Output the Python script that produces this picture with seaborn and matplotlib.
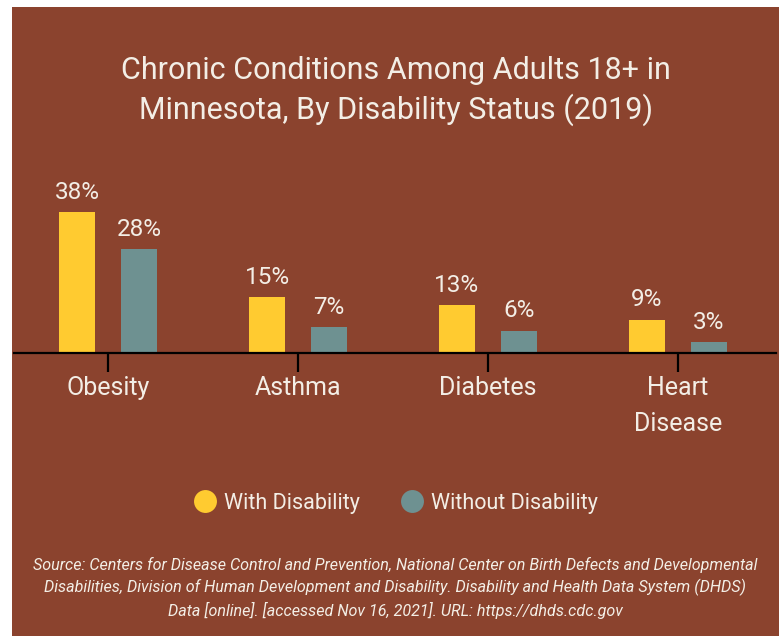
import pandas as pd
import seaborn as sns
import matplotlib.pyplot as plt
from matplotlib.patches import Rectangle
from matplotlib.lines import Line2D

conditions = ["Obesity", "Asthma", "Diabetes", "Heart\nDisease"]
with_disability = [38, 15, 13, 9]
without_disability = [28, 7, 6, 3]
groups = ["With Disability", "Without Disability"]

bg = "#8B432E"
ink = "#F3EEE6"
colors = ["#FFCB30", "#6E9191"]

df = pd.DataFrame({
    "condition": conditions * 2,
    "pct": with_disability + without_disability,
    "status": [groups[0]] * 4 + [groups[1]] * 4,
})

sns.set_style("white")
plt.rcParams["font.family"] = ["Roboto", "DejaVu Sans"]

fig = plt.figure(figsize=(7.84, 6.37), dpi=100)
fig.patch.set_facecolor("white")
fig.patches.append(Rectangle((12 / 784, 1 - 636 / 637), 767 / 784, 629 / 637,
                             transform=fig.transFigure, facecolor=bg, edgecolor="none", zorder=-10))

ax = fig.add_axes([14 / 784, (637 - 353) / 637, 762 / 784, 178 / 637])
ax.patch.set_alpha(0)
sns.barplot(data=df, x="condition", y="pct", hue="status", palette=colors,
            width=0.653, gap=0.417, ax=ax, legend=False, saturation=1,
            edgecolor="none", linewidth=0)

for cont in ax.containers:
    ax.bar_label(cont, labels=[f"{v:.0f}%" for v in cont.datavalues],
                 padding=6, color=ink, fontsize=17.5)

ax.set_xlim(-0.495, 3.516)
ax.set_ylim(0, 48.1)
ax.set_xlabel("")
ax.set_ylabel("")
ax.set_yticks([])
for s in ["top", "right", "left"]:
    ax.spines[s].set_visible(False)
ax.spines["bottom"].set_color("black")
ax.spines["bottom"].set_linewidth(1.6)
ax.tick_params(axis="x", length=13.5, width=1.6, color="black", labelcolor=ink,
               labelsize=18, pad=3, direction="out", bottom=True)
for lab in ax.get_xticklabels():
    lab.set_linespacing(1.65)

fig.text(396 / 784, 1 - 91 / 637,
         "Chronic Conditions Among Adults 18+ in\nMinnesota, By Disability Status (2019)",
         ha="center", va="center", color=ink, fontsize=22, linespacing=1.3)

handles = [Line2D([], [], marker="o", linestyle="none", markersize=16.5,
                  markerfacecolor=c, markeredgecolor="none") for c in colors]
fig.legend(handles, groups, loc="center", bbox_to_anchor=(395 / 784, 1 - 503 / 637),
           ncol=2, frameon=False, fontsize=15.5, labelcolor=ink,
           handletextpad=0.3, columnspacing=1.8, handlelength=1.2)

fig.text(395 / 784, 1 - 588 / 637,
         "Source: Centers for Disease Control and Prevention, National Center on Birth Defects and Developmental\n"
         "Disabilities, Division of Human Development and Disability. Disability and Health Data System (DHDS)\n"
         "Data [online]. [accessed Nov 16, 2021]. URL: https://dhds.cdc.gov",
         ha="center", va="center", color=ink, fontsize=11.6, style="italic", linespacing=1.45)

fig.savefig("out.png", dpi=100, facecolor="white")
